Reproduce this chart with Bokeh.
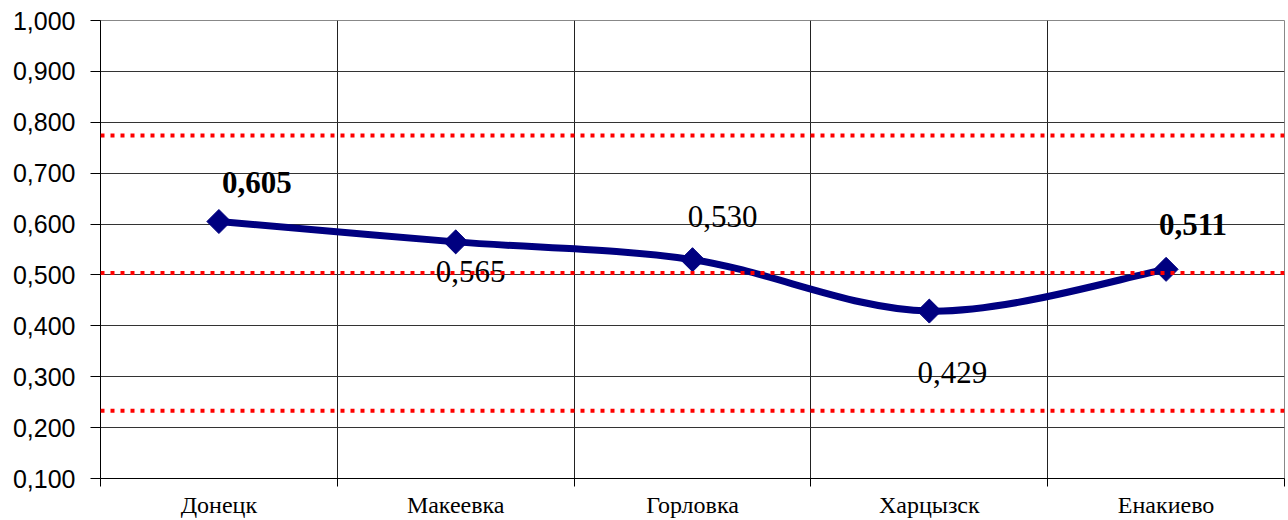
import numpy as np
from bokeh.plotting import figure
from bokeh.models import Range1d, FixedTicker, CustomJSTickFormatter, Span, ColumnDataSource
from bokeh.core.properties import value
from bokeh.embed import file_html
from bokeh.resources import INLINE

# ---- data ----
cities = ["Донецк", "Макеевка", "Горловка", "Харцызск", "Енакиево"]
index_values = [0.605, 0.565, 0.530, 0.429, 0.511]
value_labels = ["0,605", "0,565", "0,530", "0,429", "0,511"]
bold_label = [True, False, False, False, True]
ref_levels = [0.774, 0.504, 0.233]
y_ticks = [0.1, 0.2, 0.3, 0.4, 0.5, 0.6, 0.7, 0.8, 0.9, 1.0]

# label placement (screen pixels, style only)
lab_dx = [38, 15, 30, 23, 27]
lab_dy = [-39, 30, -43, 61, -45]

n = len(cities)
xs = np.arange(n) + 0.5
ys = np.array(index_values)

p = figure(width=1288, height=520, output_backend="svg", toolbar_location=None,
           x_range=Range1d(0, n), y_range=Range1d(0.1, 1.0),
           min_border_left=100, min_border_right=4, min_border_top=20, min_border_bottom=42)
p.background_fill_color = "white"
p.border_fill_color = "white"
p.outline_line_color = "#888888"

# grids
p.ygrid.ticker = FixedTicker(ticks=y_ticks)
p.ygrid.grid_line_color = "#333333"
p.ygrid.grid_line_width = 1
p.xgrid.ticker = FixedTicker(ticks=list(range(n + 1)))
p.xgrid.grid_line_color = "#222222"
p.xgrid.grid_line_width = 1

# y axis
ya = p.yaxis[0]
ya.ticker = FixedTicker(ticks=y_ticks)
ya.formatter = CustomJSTickFormatter(code="return tick.toFixed(3).replace('.', ',');")
ya.major_tick_out = 10
ya.major_tick_in = 0
ya.minor_tick_out = 0
ya.minor_tick_in = 0
ya.major_label_standoff = 15
ya.axis_line_color = "black"
ya.major_tick_line_color = "black"
ya.major_label_text_font = "Liberation Sans"
ya.major_label_text_font_size = "25px"
ya.major_label_text_color = "black"

# x axis
xa = p.xaxis[0]
xa.ticker = FixedTicker(ticks=list(xs), minor_ticks=list(range(n + 1)))
xa.formatter = CustomJSTickFormatter(args=dict(labels=cities),
                                     code="return labels[Math.floor(tick)];")
xa.major_tick_out = 0
xa.major_tick_in = 0
xa.minor_tick_out = 8
xa.minor_tick_in = 0
xa.minor_tick_line_color = "black"
xa.axis_line_color = "black"
xa.major_label_standoff = 5
xa.major_label_text_font = "Liberation Serif"
xa.major_label_text_font_size = "24px"
xa.major_label_text_color = "black"

# smoothed line (Catmull-Rom style Bezier, as in spreadsheet smoothing)
P = np.column_stack([xs, ys])
Pe = np.vstack([P[0], P, P[-1]])
x0, y0, x1, y1, cx0, cy0, cx1, cy1 = [], [], [], [], [], [], [], []
for i in range(n - 1):
    p0, p1, p2, p3 = Pe[i], Pe[i + 1], Pe[i + 2], Pe[i + 3]
    c1 = p1 + (p2 - p0) / 6.0
    c2 = p2 - (p3 - p1) / 6.0
    x0.append(p1[0]); y0.append(p1[1]); x1.append(p2[0]); y1.append(p2[1])
    cx0.append(c1[0]); cy0.append(c1[1]); cx1.append(c2[0]); cy1.append(c2[1])
p.bezier(x0=x0, y0=y0, x1=x1, y1=y1, cx0=cx0, cy0=cy0, cx1=cx1, cy1=cy1,
         line_color="#000080", line_width=7, line_cap="round")

p.scatter(x=xs, y=ys, marker="square", size=17, angle=np.pi / 4,
          fill_color="#000080", line_color="#000080")

# data labels
for bold in (True, False):
    idx = [i for i in range(n) if bold_label[i] == bold]
    src = ColumnDataSource(dict(x=[xs[i] for i in idx], y=[ys[i] for i in idx],
                                t=[value_labels[i] for i in idx],
                                dx=[lab_dx[i] for i in idx], dy=[lab_dy[i] for i in idx]))
    p.text(x="x", y="y", text="t", x_offset="dx", y_offset="dy", source=src,
           text_align="center", text_baseline="alphabetic",
           text_font=value("Liberation Serif"), text_font_size="31px",
           text_font_style="bold" if bold else "normal", text_color="black")

# reference lines
for lv in ref_levels:
    p.add_layout(Span(location=lv, dimension="width", line_color="red",
                      line_width=4, line_dash="4 6"))

open("out.html", "w").write(file_html(p, INLINE))
